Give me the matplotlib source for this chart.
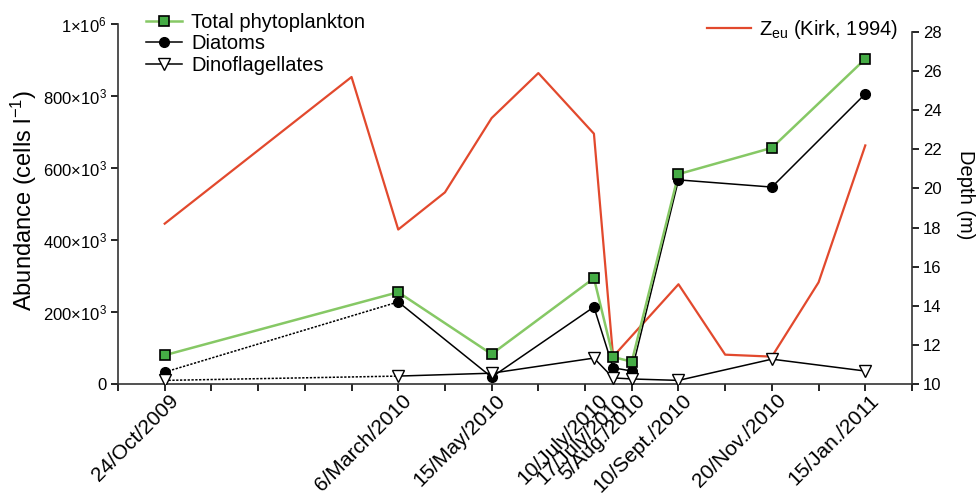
import matplotlib.pyplot as plt
import matplotlib.transforms as mtransforms
from matplotlib.lines import Line2D

plt.rcParams["font.family"] = ["Liberation Sans", "DejaVu Sans"]
plt.rcParams["mathtext.fontset"] = "custom"
plt.rcParams["mathtext.rm"] = "Liberation Sans"
plt.rcParams["mathtext.it"] = "Liberation Sans:italic"

# sampling dates (position on the monthly tick grid)
date_labels = ["24/Oct/2009", "6/March/2010", "15/May/2010", "10/July/2010",
               "17/July/2010", "5/Aug./2010", "10/Sept./2010", "20/Nov./2010",
               "15/Jan./2011"]
date_pos = [1.0, 6.0, 8.0, 10.19, 10.6, 11.0, 12.0, 14.0, 16.0]

# abundance, cells per litre
total = [80e3, 255e3, 83e3, 294e3, 75e3, 62e3, 583e3, 656e3, 903e3]
diatoms = [33e3, 228e3, 19e3, 214e3, 45e3, 36e3, 567e3, 547e3, 806e3]
dinos = [10e3, 22e3, 30e3, 72e3, 17e3, 14e3, 10e3, 69e3, 36e3]

# euphotic depth (Kirk, 1994)
zeu_pos = [1, 5, 6, 7, 8, 9, 10.19, 10.6, 12, 13, 14, 15, 16]
zeu = [18.2, 25.7, 17.9, 19.8, 23.6, 25.9, 22.8, 11.4, 15.1, 11.5, 11.4, 15.2, 22.2]

ab_ticks = [0, 200e3, 400e3, 600e3, 800e3, 1e6]
ab_labels = ["0", r"200×10$^{3}$", r"400×10$^{3}$", r"600×10$^{3}$",
             r"800×10$^{3}$", r"1×10$^{6}$"]
depth_ticks = [10, 12, 14, 16, 18, 20, 22, 24, 26, 28]

green_line = "#86c865"
green_face = "#45ac45"
red = "#e2492d"

fig = plt.figure(figsize=(9.79, 4.93), dpi=100)
ax = fig.add_axes([118 / 979, 109 / 493, 794 / 979, 360 / 493])

# dotted first segment for diatoms and dinoflagellates
ax.plot(date_pos[:2], diatoms[:2], color="black", lw=1.1, ls=(0, (1.5, 1)), zorder=2)
ax.plot(date_pos[:2], dinos[:2], color="black", lw=1.1, ls=(0, (1.5, 1)), zorder=2)
ax.plot(date_pos[1:], diatoms[1:], color="black", lw=1.1, zorder=2)
ax.plot(date_pos[1:], dinos[1:], color="black", lw=1.1, zorder=2)
ax.plot(date_pos, total, color=green_line, lw=1.8, zorder=2)

tot_style = dict(marker="s", ms=6.5, mfc=green_face, mec="black", mew=1.2)
dia_style = dict(marker="o", ms=7, mfc="black", mec="black")
din_style = dict(marker="v", ms=8, mfc="white", mec="black", mew=1.0)
ax.plot(date_pos, total, ls="none", zorder=4, **tot_style)
ax.plot(date_pos, diatoms, ls="none", zorder=3, **dia_style)
ax.plot(date_pos, dinos, ls="none", zorder=3, **din_style)

ax.set_xlim(0, 17)
ax.set_ylim(0, 1e6)
ax.xaxis.remove_overlapping_locs = False
ax.set_xticks(range(18))
ax.set_xticklabels([])
ax.set_xticks(date_pos, minor=True)
ax.set_xticklabels(date_labels, minor=True, rotation=45, ha="right", va="top",
                   rotation_mode="anchor", fontsize=15)
ax.tick_params(axis="x", which="minor", length=0, pad=2)
offset = mtransforms.ScaledTranslation(4 / 100, -4 / 100, fig.dpi_scale_trans)
for lab in ax.xaxis.get_minorticklabels():
    lab.set_transform(lab.get_transform() + offset)
ax.tick_params(axis="x", which="major", length=5, width=1.2, direction="out")
ax.set_yticks(ab_ticks)
ax.set_yticklabels(ab_labels, fontsize=12)
ax.tick_params(axis="y", length=5, width=1.2, direction="out", pad=3)
ax.set_ylabel(r"Abundance (cells l$^{-1}$)", fontsize=17, va="center", ha="center")
ax.yaxis.set_label_coords(-0.118, 0.511)
for side in ["top", "right"]:
    ax.spines[side].set_visible(False)
for side in ["left", "bottom"]:
    ax.spines[side].set_linewidth(1.2)
    ax.spines[side].set_color("#333333")

ax2 = ax.twinx()
h_zeu, = ax2.plot(zeu_pos, zeu, color=red, lw=1.6, zorder=1)
ax2.set_ylim(10, 28.41)
ax2.set_yticks(depth_ticks)
ax2.set_yticklabels([str(t) for t in depth_ticks], fontsize=12)
ax2.tick_params(axis="y", length=5, width=1.2, direction="out", pad=3)
ax2.spines["right"].set_bounds(10, 28)
ax2.spines["right"].set_linewidth(1.2)
ax2.spines["right"].set_color("#333333")
for side in ["top", "left", "bottom"]:
    ax2.spines[side].set_visible(False)
ax2.set_ylabel("Depth (m)", fontsize=14.5, rotation=270, va="center", ha="center")
ax2.yaxis.set_label_coords(1.068, 0.525)
ax.set_zorder(ax2.get_zorder() + 1)
ax.patch.set_visible(False)

handles = [Line2D([], [], color=green_line, lw=1.8, **tot_style),
           Line2D([], [], color="black", lw=1.1, **dia_style),
           Line2D([], [], color="black", lw=1.1, **din_style)]
fig.legend(handles, ["Total phytoplankton", "Diatoms", "Dinoflagellates"],
           loc="upper left", bbox_to_anchor=(146 / 979, 1 - 13 / 493), frameon=False,
           fontsize=14.5, labelspacing=0.12, handlelength=1.8, handletextpad=0.45,
           borderpad=0, borderaxespad=0)
fig.legend([h_zeu], [r"Z$_{\rm eu}$ (Kirk, 1994)"], loc="upper right",
           bbox_to_anchor=(898 / 979, 1 - 18 / 493), frameon=False, fontsize=14.5,
           handlelength=2.2, handletextpad=0.4, borderpad=0, borderaxespad=0)

fig.savefig("out.png", dpi=100)
